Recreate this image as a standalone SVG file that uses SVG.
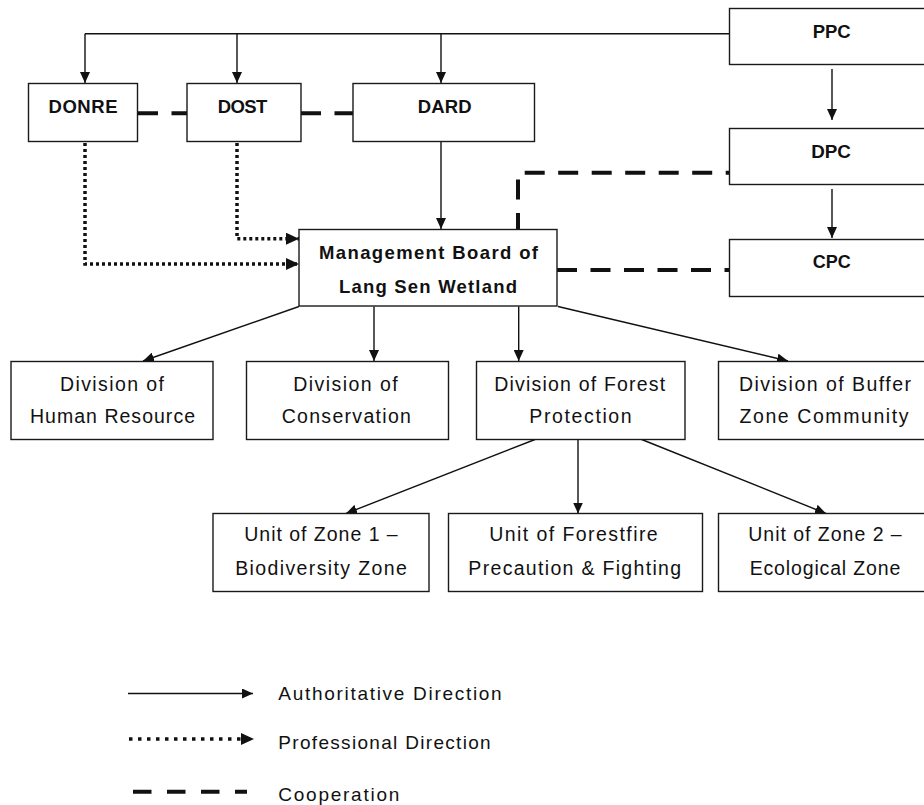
<svg xmlns="http://www.w3.org/2000/svg" width="924" height="805" viewBox="0 0 924 805">
<defs>
<style>
.box{fill:#fff;stroke:#1a1a1a;stroke-width:1.4}
.t{font-family:"Liberation Sans",Arial,sans-serif;font-size:19.5px;fill:#111;text-anchor:middle}
.b{font-weight:bold;font-size:18.5px}
.lt{font-family:"Liberation Sans",Arial,sans-serif;font-size:19px;fill:#111}
.solid{fill:none;stroke:#111;stroke-width:1.4}
.dot{fill:none;stroke:#111;stroke-width:3.5;stroke-dasharray:3 3}
.dash{fill:none;stroke:#111;stroke-width:4;stroke-dasharray:20 13.5}
</style>
<marker id="ah" markerUnits="userSpaceOnUse" markerWidth="11" markerHeight="10" refX="11" refY="5" orient="auto">
<path d="M0,0 L11,5 L0,10 Z" fill="#111"/>
</marker>
<marker id="ahd" markerUnits="userSpaceOnUse" markerWidth="13" markerHeight="12" refX="13" refY="6" orient="auto">
<path d="M0,0 L13,6 L0,12 Z" fill="#111"/>
</marker>
</defs>
<rect width="924" height="805" fill="#fff"/>

<g id="connectors">
<path class="solid" d="M85,33.7 H729.5"/>
<path class="solid" d="M85,33.7 V83" marker-end="url(#ah)"/>
<path class="solid" d="M237,33.7 V83" marker-end="url(#ah)"/>
<path class="solid" d="M441,33.7 V83" marker-end="url(#ah)"/>
<path class="solid" d="M832,69 V120" marker-end="url(#ah)"/>
<path class="solid" d="M832,189 V238" marker-end="url(#ah)"/>
<path class="solid" d="M441,142 V229" marker-end="url(#ah)"/>
<path class="dot" d="M237,143 V238.7 H299" marker-end="url(#ahd)"/>
<path class="dot" d="M85,143 V264 H299" marker-end="url(#ahd)"/>
<path class="dash" d="M138,113.3 H187"/>
<path class="dash" d="M301,113.3 H353"/>
<path class="dash" d="M518,229 V172.7 H729" stroke-dashoffset="4"/>
<path class="dash" d="M557,270 H729"/>
<path class="solid" d="M299,306.5 L143,361" marker-end="url(#ah)"/>
<path class="solid" d="M374,306.5 V361" marker-end="url(#ah)"/>
<path class="solid" d="M518.7,306.5 V361" marker-end="url(#ah)"/>
<path class="solid" d="M558,306.5 L788,361" marker-end="url(#ah)"/>
<path class="solid" d="M535,439.5 L346,513.5" marker-end="url(#ah)"/>
<path class="solid" d="M578,439.5 V513.5" marker-end="url(#ah)"/>
<path class="solid" d="M641.7,439.5 L826,513.5" marker-end="url(#ah)"/>
</g>

<g id="ppc"><rect class="box" x="729.5" y="8.5" width="220" height="56"/><text class="t b" x="831.7" y="37.7" textLength="38" lengthAdjust="spacingAndGlyphs">PPC</text></g>
<g id="dpc"><rect class="box" x="729.5" y="128.5" width="220" height="56"/><text class="t b" x="831" y="157.7" textLength="39.7" lengthAdjust="spacingAndGlyphs">DPC</text></g>
<g id="cpc"><rect class="box" x="729.5" y="239.5" width="220" height="57"/><text class="t b" x="831.7" y="268.3" textLength="38" lengthAdjust="spacingAndGlyphs">CPC</text></g>

<g id="donre"><rect class="box" x="28.5" y="83.5" width="109" height="58"/><text class="t b" x="83" y="113" textLength="69" lengthAdjust="spacing">DONRE</text></g>
<g id="dost"><rect class="box" x="187" y="83.5" width="114" height="58"/><text class="t b" x="242.5" y="113" textLength="49.6" lengthAdjust="spacing">DOST</text></g>
<g id="dard"><rect class="box" x="353" y="83.5" width="181.5" height="58"/><text class="t b" x="444.7" y="113" textLength="54" lengthAdjust="spacing">DARD</text></g>

<g id="mb"><rect class="box" x="299" y="229.5" width="258" height="76.5"/>
<text class="t b" x="428.5" y="259.3" textLength="219" lengthAdjust="spacing">Management Board of</text>
<text class="t b" x="428" y="292.7" textLength="178" lengthAdjust="spacing">Lang Sen Wetland</text></g>

<g id="div-hr"><rect class="box" x="11" y="361.5" width="202" height="78"/>
<text class="t" x="112" y="390.7" textLength="104" lengthAdjust="spacing">Division of</text>
<text class="t" x="112.5" y="423.3" textLength="165" lengthAdjust="spacing">Human Resource</text></g>
<g id="div-cons"><rect class="box" x="246.5" y="361.5" width="202" height="78"/>
<text class="t" x="345.5" y="390.7" textLength="104.4" lengthAdjust="spacing">Division of</text>
<text class="t" x="346.3" y="423.3" textLength="129.3" lengthAdjust="spacing">Conservation</text></g>
<g id="div-forest"><rect class="box" x="476.5" y="361.5" width="208.5" height="78"/>
<text class="t" x="579.7" y="390.7" textLength="171" lengthAdjust="spacing">Division of Forest</text>
<text class="t" x="580.5" y="423.3" textLength="102.4" lengthAdjust="spacing">Protection</text></g>
<g id="div-buffer"><rect class="box" x="718.5" y="361.5" width="230" height="78"/>
<text class="t" x="825" y="390.7" textLength="172" lengthAdjust="spacing">Division of Buffer</text>
<text class="t" x="824" y="423.3" textLength="169" lengthAdjust="spacing">Zone Community</text></g>

<g id="unit-z1"><rect class="box" x="213" y="513.5" width="216" height="78"/>
<text class="t" x="321" y="540.7" textLength="153.4" lengthAdjust="spacing">Unit of Zone 1 –</text>
<text class="t" x="321" y="575" textLength="171.7" lengthAdjust="spacing">Biodiversity Zone</text></g>
<g id="unit-fire"><rect class="box" x="448.5" y="513.5" width="254" height="78"/>
<text class="t" x="573.5" y="540.7" textLength="168.4" lengthAdjust="spacing">Unit of Forestfire</text>
<text class="t" x="574.7" y="575" textLength="212.7" lengthAdjust="spacing">Precaution &amp; Fighting</text></g>
<g id="unit-z2"><rect class="box" x="718.5" y="513.5" width="230" height="78"/>
<text class="t" x="825" y="540.7" textLength="153.4" lengthAdjust="spacing">Unit of Zone 2 –</text>
<text class="t" x="825" y="575" textLength="150.7" lengthAdjust="spacing">Ecological Zone</text></g>

<g id="legend">
<path class="solid" d="M128,693.5 H253" marker-end="url(#ah)"/>
<path fill="none" stroke="#111" stroke-width="3.5" stroke-dasharray="3.5 5.5" d="M129,739 H254" marker-end="url(#ahd)"/>
<path fill="none" stroke="#111" stroke-width="4" stroke-dasharray="18.5 15.5" d="M133,791.7 H247"/>
<text class="lt" x="278.3" y="700" textLength="223.4" lengthAdjust="spacing">Authoritative Direction</text>
<text class="lt" x="278.3" y="749" textLength="212.4" lengthAdjust="spacing">Professional Direction</text>
<text class="lt" x="278.3" y="800.5" textLength="121" lengthAdjust="spacing">Cooperation</text>
</g>
</svg>
